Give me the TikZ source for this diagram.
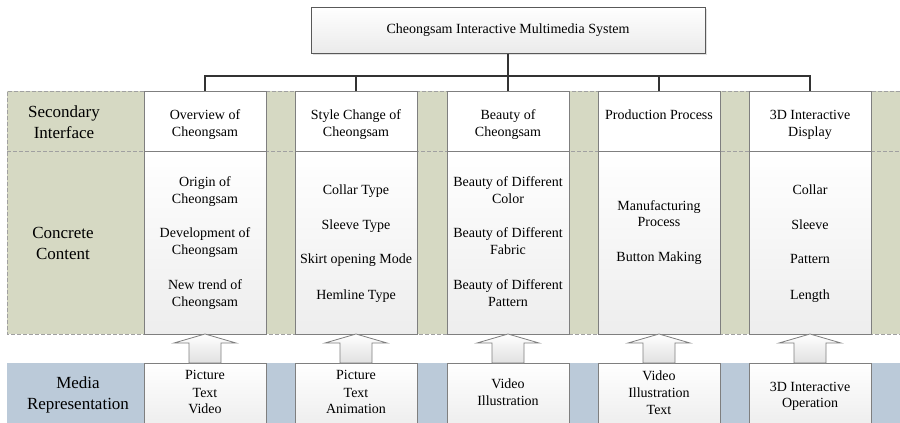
\documentclass[tikz,border=0pt]{standalone}
\usepackage{fontspec}
\setmainfont{Liberation Serif}
\usetikzlibrary{shadows}
\definecolor{bandgreen}{HTML}{D6D9C3}
\definecolor{bandblue}{HTML}{BBCAD9}
\definecolor{boxgray}{HTML}{7F7F7F}
\definecolor{dashgray}{HTML}{A0A0A0}
\tikzset{
  colbox/.style={draw=boxgray, line width=0.9pt, minimum width=122pt, inner sep=0pt, outer sep=0pt},
  plainbox/.style={colbox, fill=white},
  gradbox/.style={colbox, top color=white, bottom color=black!7},
  txt/.style={font=\fontsize{14}{17}\selectfont, anchor=base, inner sep=0pt},
  lbl/.style={font=\fontsize{17}{21}\selectfont, anchor=base, inner sep=0pt},
  link/.style={draw=black!80, line width=1.2pt},
  bandline/.style={draw=dashgray, line width=0.8pt, dash pattern=on 4pt off 2pt},
  uparrow/.style={draw=boxgray, line width=0.8pt, top color=white, bottom color=black!12},
  headbox/.style={draw=black!65, line width=1pt, minimum width=394pt, minimum height=46pt,
    top color=white, bottom color=black!8, inner sep=0pt,
    drop shadow={shadow xshift=2pt, shadow yshift=-2pt, fill=black!12, opacity=1},
    font=\fontsize{14}{17}\selectfont}
}
\begin{document}
\begin{tikzpicture}[x=1pt,y=-1pt]
\useasboundingbox (0,0) rectangle (900,423);

% shaded background bands
\fill[bandgreen] (7,91) rectangle (900,334);
\draw[bandline] (900,91) -- (7,91) -- (7,334) -- (900,334);
\draw[bandline] (7,151) -- (900,151);
\fill[bandblue] (7,363) rectangle (900,426);

% root box
\node[headbox] (root) at (508,30) {Cheongsam Interactive Multimedia System};

% columns: interface, content, media
\foreach \i/\cx in {1/205,2/356,3/508,4/659,5/810}{
  \node[plainbox, minimum height=60pt] (sec\i) at (\cx,121) {};
  \node[gradbox, minimum height=183pt] (con\i) at (\cx,242.5) {};
  \node[gradbox, minimum height=64pt] (med\i) at (\cx,395) {};
  \draw[uparrow] (con\i.south) -- ++(31,9) -- ++(-15,0) -- ++(0,20)
     -- ++(-32,0) -- ++(0,-20) -- ++(-15,0) -- cycle;
}

% tree connectors
\draw[link] (root.south) -- (root.south |- 0,76);
\draw[link] (sec1.north) -- ++(0,-15) -| (sec5.north);
\foreach \i in {2,3,4}{ \draw[link] (sec\i.north) -- ++(0,-15); }

% row labels
\node[lbl] (l1a) at (64,117) {Secondary};
\node[lbl] (l1b) at (64,138) {Interface};
\node[lbl] (l2a) at (63,238) {Concrete};
\node[lbl] (l2b) at (63,259) {Content};
\node[lbl] (l3a) at (78,388) {Media};
\node[lbl] (l3b) at (78,409) {Representation};

% column texts
\foreach \n/\x/\y/\t in {
  a/205/119/Overview of, b/205/136/Cheongsam,
  c/356/119/Style Change of, d/356/136/Cheongsam,
  e/508/119/Beauty of, f/508/136/Cheongsam,
  g/659/119/Production Process,
  h/810/119/3D Interactive, i/810/136/Display,
  j/205/186/Origin of, k/205/203/Cheongsam,
  l/205/237/Development of, m/205/254/Cheongsam,
  n/205/289/New trend of, o/205/306/Cheongsam,
  p/356/194/Collar Type, q/356/229/Sleeve Type,
  r/356/263/Skirt opening Mode, s/356/299/Hemline Type,
  t/508/186/Beauty of Different, u/508/203/Color,
  v/508/237/Beauty of Different, w/508/254/Fabric,
  x/508/289/Beauty of Different, y/508/306/Pattern,
  z/659/210/Manufacturing, A/659/226/Process, B/659/261/Button Making,
  C/810/194/Collar, D/810/229/Sleeve, E/810/263/Pattern, F/810/299/Length,
  G/205/379/Picture, H/205/397/Text, I/205/413/Video,
  J/356/379/Picture, K/356/397/Text, L/356/413/Animation,
  M/508/388/Video, N/508/405/Illustration,
  O/659/380/Video, P/659/397/Illustration, Q/659/414/Text,
  R/810/391/3D Interactive, S/810/407/Operation}{
  \node[txt] (t\n) at (\x,\y) {\t};
}
\end{tikzpicture}
\end{document}
